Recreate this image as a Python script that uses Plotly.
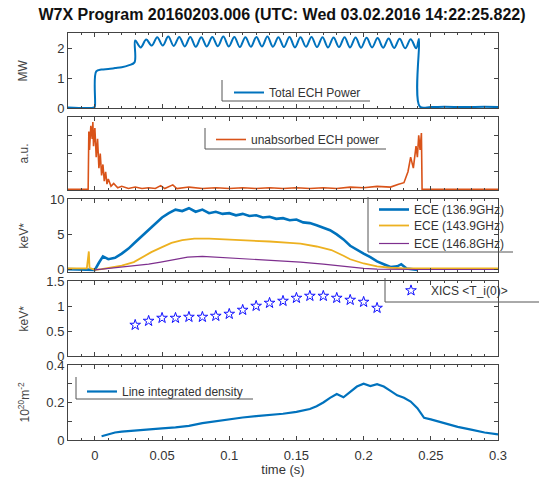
import plotly.graph_objects as go

# ---------------- data ----------------
ech_t = [-0.020, -0.0005, 0.0, 0.001, 0.005, 0.010, 0.015, 0.020, 0.025, 0.0295,
         0.0300, 0.0341, 0.0382, 0.0423, 0.0464, 0.0505, 0.0546, 0.0587, 0.0628, 0.0669,
         0.0710, 0.0751, 0.0792, 0.0833, 0.0874, 0.0915, 0.0956, 0.0997, 0.1038, 0.1079,
         0.1120, 0.1161, 0.1202, 0.1243, 0.1284, 0.1325, 0.1366, 0.1407, 0.1448, 0.1489,
         0.1530, 0.1571, 0.1612, 0.1653, 0.1694, 0.1735, 0.1776, 0.1817, 0.1858, 0.1899,
         0.1940, 0.1981, 0.2022, 0.2063, 0.2104, 0.2145, 0.2186, 0.2227, 0.2268, 0.2309,
         0.2350, 0.2391, 0.2412, 0.2418, 0.2500, 0.2600, 0.2750, 0.2900, 0.3000]
ech_p = [0.02, 0.02, 0.05, 1.22, 1.28, 1.30, 1.33, 1.36, 1.42, 1.52,
         2.25, 2.02, 2.28, 2.08, 2.36, 2.08, 2.38, 2.07, 2.37, 2.05,
         2.37, 2.04, 2.36, 2.05, 2.37, 2.06, 2.38, 2.05, 2.37, 2.03,
         2.36, 2.04, 2.37, 2.05, 2.38, 2.04, 2.36, 2.03, 2.37, 2.02,
         2.36, 2.04, 2.37, 2.03, 2.36, 2.02, 2.35, 2.03, 2.36, 2.02,
         2.35, 2.01, 2.34, 2.02, 2.33, 2.01, 2.32, 2.00, 2.31, 1.99,
         2.29, 1.99, 2.30, 0.05, 0.03, 0.04, 0.03, 0.04, 0.03]

unabs_t = [-0.020, -0.005, -0.0045, -0.0040, -0.0030, -0.0020, -0.0015, -0.0010, 0.0000, 0.0010,
           0.0020, 0.0030, 0.0040, 0.0050, 0.0060, 0.0070, 0.0080, 0.0090, 0.0100, 0.0120,
           0.0140, 0.0170, 0.0200, 0.0250, 0.0300, 0.0350, 0.0400, 0.0450, 0.0490, 0.0520,
           0.0580, 0.0610, 0.0700, 0.0800, 0.0900, 0.1000, 0.1100, 0.1200, 0.1300, 0.1400,
           0.1500, 0.1600, 0.1700, 0.1800, 0.1900, 0.2000, 0.2100, 0.2200, 0.2260, 0.2300,
           0.2330, 0.2350, 0.2370, 0.2390, 0.2400, 0.2410, 0.2420, 0.2430, 0.2435, 0.2600, 0.3000]
unabs_v = [0.01, 0.01, 0.80, 0.55, 0.88, 0.70, 0.93, 0.60, 0.85, 0.45,
           0.70, 0.30, 0.50, 0.20, 0.35, 0.12, 0.25, 0.08, 0.15, 0.05,
           0.09, 0.03, 0.05, 0.02, 0.04, 0.02, 0.03, 0.02, 0.06, 0.02,
           0.07, 0.02, 0.04, 0.02, 0.03, 0.02, 0.03, 0.02, 0.03, 0.02,
           0.03, 0.02, 0.03, 0.02, 0.04, 0.03, 0.05, 0.04, 0.08, 0.10,
           0.25, 0.45, 0.30, 0.60, 0.45, 0.75, 0.55, 0.78, 0.01, 0.01, 0.01]

ece1_t = [-0.020, -0.010, -0.001, 0.000, 0.003, 0.006, 0.010, 0.015, 0.020, 0.025,
          0.030, 0.035, 0.040, 0.045, 0.050, 0.055, 0.060, 0.065, 0.070, 0.075,
          0.080, 0.085, 0.090, 0.095, 0.100, 0.105, 0.110, 0.115, 0.120, 0.125,
          0.130, 0.135, 0.140, 0.145, 0.150, 0.155, 0.160, 0.165, 0.170, 0.175,
          0.180, 0.185, 0.190, 0.195, 0.200, 0.205, 0.210, 0.215, 0.220, 0.225,
          0.228, 0.232, 0.240]
ece1_v = [0.1, 0.1, 0.1, 0.0, 1.0, 1.9, 1.5, 1.7, 2.3, 3.0,
          3.9, 4.8, 5.7, 6.5, 7.4, 8.0, 8.5, 8.3, 8.7, 8.2,
          8.5, 8.0, 8.2, 7.9, 8.0, 7.7, 7.9, 7.6, 7.7, 7.4,
          7.5, 7.2, 7.3, 7.0, 7.1, 6.7, 6.6, 6.3, 6.0, 5.6,
          5.0, 4.3, 3.4, 2.8, 2.3, 1.8, 1.2, 0.8, 0.4, 0.5,
          0.8, 0.2, 0.0]

ece2_t = [-0.020, -0.006, -0.0045, -0.004, -0.003, 0.000, 0.005, 0.012, 0.020, 0.029,
          0.035, 0.042, 0.050, 0.057, 0.065, 0.074, 0.085, 0.100, 0.116, 0.130,
          0.145, 0.153, 0.165, 0.176, 0.185, 0.190, 0.200, 0.210, 0.220, 0.230,
          0.250, 0.270, 0.300]
ece2_v = [0.2, 0.2, 2.6, 0.3, 0.2, 0.0, 0.1, 0.3, 0.6, 1.1,
          1.8, 2.5, 3.2, 3.8, 4.2, 4.4, 4.4, 4.3, 4.2, 4.0,
          3.8, 3.7, 3.3, 2.8, 2.0, 1.5, 0.9, 0.5, 0.3, 0.2,
          0.2, 0.2, 0.2]

ece3_t = [0.000, 0.010, 0.020, 0.030, 0.040, 0.049, 0.060, 0.069, 0.080, 0.090,
          0.100, 0.116, 0.130, 0.153, 0.170, 0.180, 0.190, 0.200, 0.210, 0.220,
          0.240, 0.300]
ece3_v = [0.0, 0.2, 0.4, 0.6, 0.8, 1.1, 1.5, 1.8, 1.9, 1.8,
          1.7, 1.5, 1.3, 1.1, 0.8, 0.6, 0.3, 0.2, 0.1, 0.05,
          0.05, 0.05]

xics_t = [0.03, 0.04, 0.05, 0.06, 0.07, 0.08, 0.09, 0.10, 0.11, 0.12,
          0.13, 0.14, 0.15, 0.16, 0.17, 0.18, 0.19, 0.20, 0.21]
xics_v = [0.62, 0.70, 0.76, 0.76, 0.78, 0.78, 0.80, 0.84, 0.92, 1.00,
          1.06, 1.10, 1.16, 1.20, 1.20, 1.16, 1.12, 1.08, 0.96]

dens_t = [0.005, 0.010, 0.015, 0.020, 0.030, 0.040, 0.050, 0.060, 0.070, 0.080,
          0.090, 0.100, 0.110, 0.120, 0.130, 0.140, 0.150, 0.160, 0.165, 0.170,
          0.175, 0.180, 0.185, 0.190, 0.195, 0.200, 0.205, 0.210, 0.215, 0.220,
          0.225, 0.230, 0.235, 0.240, 0.245, 0.250, 0.260, 0.270, 0.280, 0.290, 0.300]
dens_v = [0.020, 0.030, 0.040, 0.045, 0.052, 0.058, 0.062, 0.067, 0.075, 0.090,
          0.100, 0.112, 0.120, 0.127, 0.133, 0.140, 0.150, 0.165, 0.180, 0.200,
          0.225, 0.245, 0.228, 0.255, 0.285, 0.300, 0.288, 0.298, 0.285, 0.262,
          0.238, 0.225, 0.205, 0.170, 0.118, 0.110, 0.090, 0.070, 0.055, 0.040, 0.030]

x_ticks = [0, 0.05, 0.1, 0.15, 0.2, 0.25, 0.3]
x_labels = ["0", "0.05", "0.1", "0.15", "0.2", "0.25", "0.3"]
y_titles = ["MW", "a.u.", "keV*", "keV*", "10<sup>20</sup>m<sup>-2</sup>"]

# ---------------- styling ----------------
W, H = 539, 477
ML, MR, MT, MB = 68, 41, 33, 37
PW, PH = W - ML - MR, H - MT - MB
FONT = "Liberation Sans, Arial, sans-serif"
AX = "#444444"
TXT = "#333333"
BLUE, ORANGE, YELLOW, PURPLE = "#0072BD", "#D95319", "#EDB120", "#7E2F8E"

def px_x(p):
    return (p - ML) / PW

def px_y(p):
    return (H - MB - p) / PH

panels_px = [(33, 108), (117, 190), (199, 272), (281, 356), (365, 440)]

fig = go.Figure()
fig.add_trace(go.Scatter(x=ech_t, y=ech_p, mode="lines", name="Total ECH Power",
                         line=dict(color=BLUE, width=2, shape="spline", smoothing=1.0),
                         xaxis="x", yaxis="y", legend="legend"))
fig.add_trace(go.Scatter(x=unabs_t, y=unabs_v, mode="lines", name="unabsorbed ECH power",
                         line=dict(color=ORANGE, width=1.6),
                         xaxis="x2", yaxis="y2", legend="legend2"))
fig.add_trace(go.Scatter(x=ece1_t, y=ece1_v, mode="lines", name="ECE (136.9GHz)",
                         line=dict(color=BLUE, width=2.6),
                         xaxis="x3", yaxis="y3", legend="legend3"))
fig.add_trace(go.Scatter(x=ece2_t, y=ece2_v, mode="lines", name="ECE (143.9GHz)",
                         line=dict(color=YELLOW, width=1.8),
                         xaxis="x3", yaxis="y3", legend="legend6"))
fig.add_trace(go.Scatter(x=ece3_t, y=ece3_v, mode="lines", name="ECE (146.8GHz)",
                         line=dict(color=PURPLE, width=1.2),
                         xaxis="x3", yaxis="y3", legend="legend7"))
fig.add_trace(go.Scatter(x=xics_t, y=xics_v, mode="markers", name="XICS <T_i(0)>",
                         marker=dict(symbol="star-open", size=8, color="#1010FF",
                                     line=dict(width=1, color="#1010FF")),
                         xaxis="x4", yaxis="y4", legend="legend4"))
fig.add_trace(go.Scatter(x=dens_t, y=dens_v, mode="lines", name="Line integrated density",
                         line=dict(color=BLUE, width=2.2),
                         xaxis="x5", yaxis="y5", legend="legend5"))

y_specs = [
    dict(range=[0, 2.5], tickvals=[0, 1, 2], ticktext=["0", "1", "2"]),
    dict(range=[0, 1.0], tickvals=[0.25, 0.5, 0.75], ticktext=["", "", ""]),
    dict(range=[-0.3, 10], tickvals=[0, 5, 10], ticktext=["0", "5", "10"]),
    dict(range=[0, 1.5], tickvals=[0, 0.5, 1, 1.5], ticktext=["0", "0.5", "1", "1.5"]),
    dict(range=[0, 0.4], tickvals=[0, 0.1, 0.2, 0.3, 0.4], ticktext=["0", "", "0.2", "", "0.4"]),
]

layout = dict(
    width=W, height=H,
    margin=dict(l=ML, r=MR, t=MT, b=MB, autoexpand=False),
    paper_bgcolor="white", plot_bgcolor="white",
    font=dict(family=FONT, size=13, color=TXT),
    title=dict(text="<b>W7X Program 20160203.006 (UTC: Wed 03.02.2016 14:22:25.822)</b>",
               xref="container", x=282 / W, xanchor="center",
               yref="container", y=1 - 14 / H, yanchor="middle",
               font=dict(family=FONT, size=16, color="#111111")),
    showlegend=True,
)

annotations = []
for i, (top, bot) in enumerate(panels_px):
    n = "" if i == 0 else str(i + 1)
    spec = y_specs[i]
    xa = dict(domain=[0, 1], range=[-0.02, 0.3], anchor="y" + n, automargin=False,
              tickvals=x_ticks, ticktext=x_labels if i == 4 else [""] * len(x_ticks),
              ticks="inside", ticklen=4, tickcolor=AX, showline=True, linecolor=AX,
              linewidth=1, mirror="ticks", showgrid=False, zeroline=False,
              minor=dict(dtick=0.01, tick0=0, ticks="inside", ticklen=2, tickcolor=AX, showgrid=False),
              tickfont=dict(size=13, color=TXT), ticklabelstandoff=3)
    if i != 0:
        xa["matches"] = "x"
    if i == 4:
        xa["title"] = dict(text="time (s)", font=dict(size=13, color=TXT), standoff=5)
    ya = dict(domain=[px_y(bot), px_y(top)], range=spec["range"], anchor="x" + n, automargin=False,
              tickvals=spec["tickvals"], ticktext=spec["ticktext"],
              ticks="inside", ticklen=4, tickcolor=AX, showline=True, linecolor=AX,
              linewidth=1, mirror="ticks", showgrid=False, zeroline=False,
              tickfont=dict(size=13, color=TXT))
    layout["xaxis" + n] = xa
    layout["yaxis" + n] = ya
    annotations.append(dict(text=y_titles[i], xref="paper", yref="paper",
                            x=px_x(23), y=px_y((top + bot) / 2), xanchor="center", yanchor="middle",
                            textangle=-90, showarrow=False, font=dict(size=12, color="#444444")))
layout["annotations"] = annotations

# legend top-left corners, in pixel positions
legend_px = [
    ("legend", 229, 78),
    ("legend2", 211, 125),
    ("legend3", 374, 195),
    ("legend6", 374, 211),
    ("legend7", 374, 229),
    ("legend4", 391, 276),
    ("legend5", 82, 377),
]
for name, lx, ly in legend_px:
    layout[name] = dict(x=px_x(lx), y=px_y(ly), xanchor="left", yanchor="top",
                        bgcolor="rgba(0,0,0,0)", borderwidth=0,
                        font=dict(family=FONT, size=12, color=TXT),
                        tracegroupgap=0, itemwidth=30)

# L-shaped legend frames (left + bottom edges), in pixel positions
frames_px = [
    (222, 80, 101, 370),
    (205, 128, 149, 386),
    (368, 197, 252, 513),
    (385, 278, 302, 539),
    (76, 377, 399, 253),
]
shapes = []
for x0, y0, y1, x1 in frames_px:
    shapes.append(dict(type="line", xref="paper", yref="paper",
                       x0=px_x(x0), x1=px_x(x0), y0=px_y(y0), y1=px_y(y1),
                       line=dict(color="#555555", width=1)))
    shapes.append(dict(type="line", xref="paper", yref="paper",
                       x0=px_x(x0), x1=px_x(x1), y0=px_y(y1), y1=px_y(y1),
                       line=dict(color="#555555", width=1)))
layout["shapes"] = shapes

fig.update_layout(**layout)
fig.write_html("out.html")
